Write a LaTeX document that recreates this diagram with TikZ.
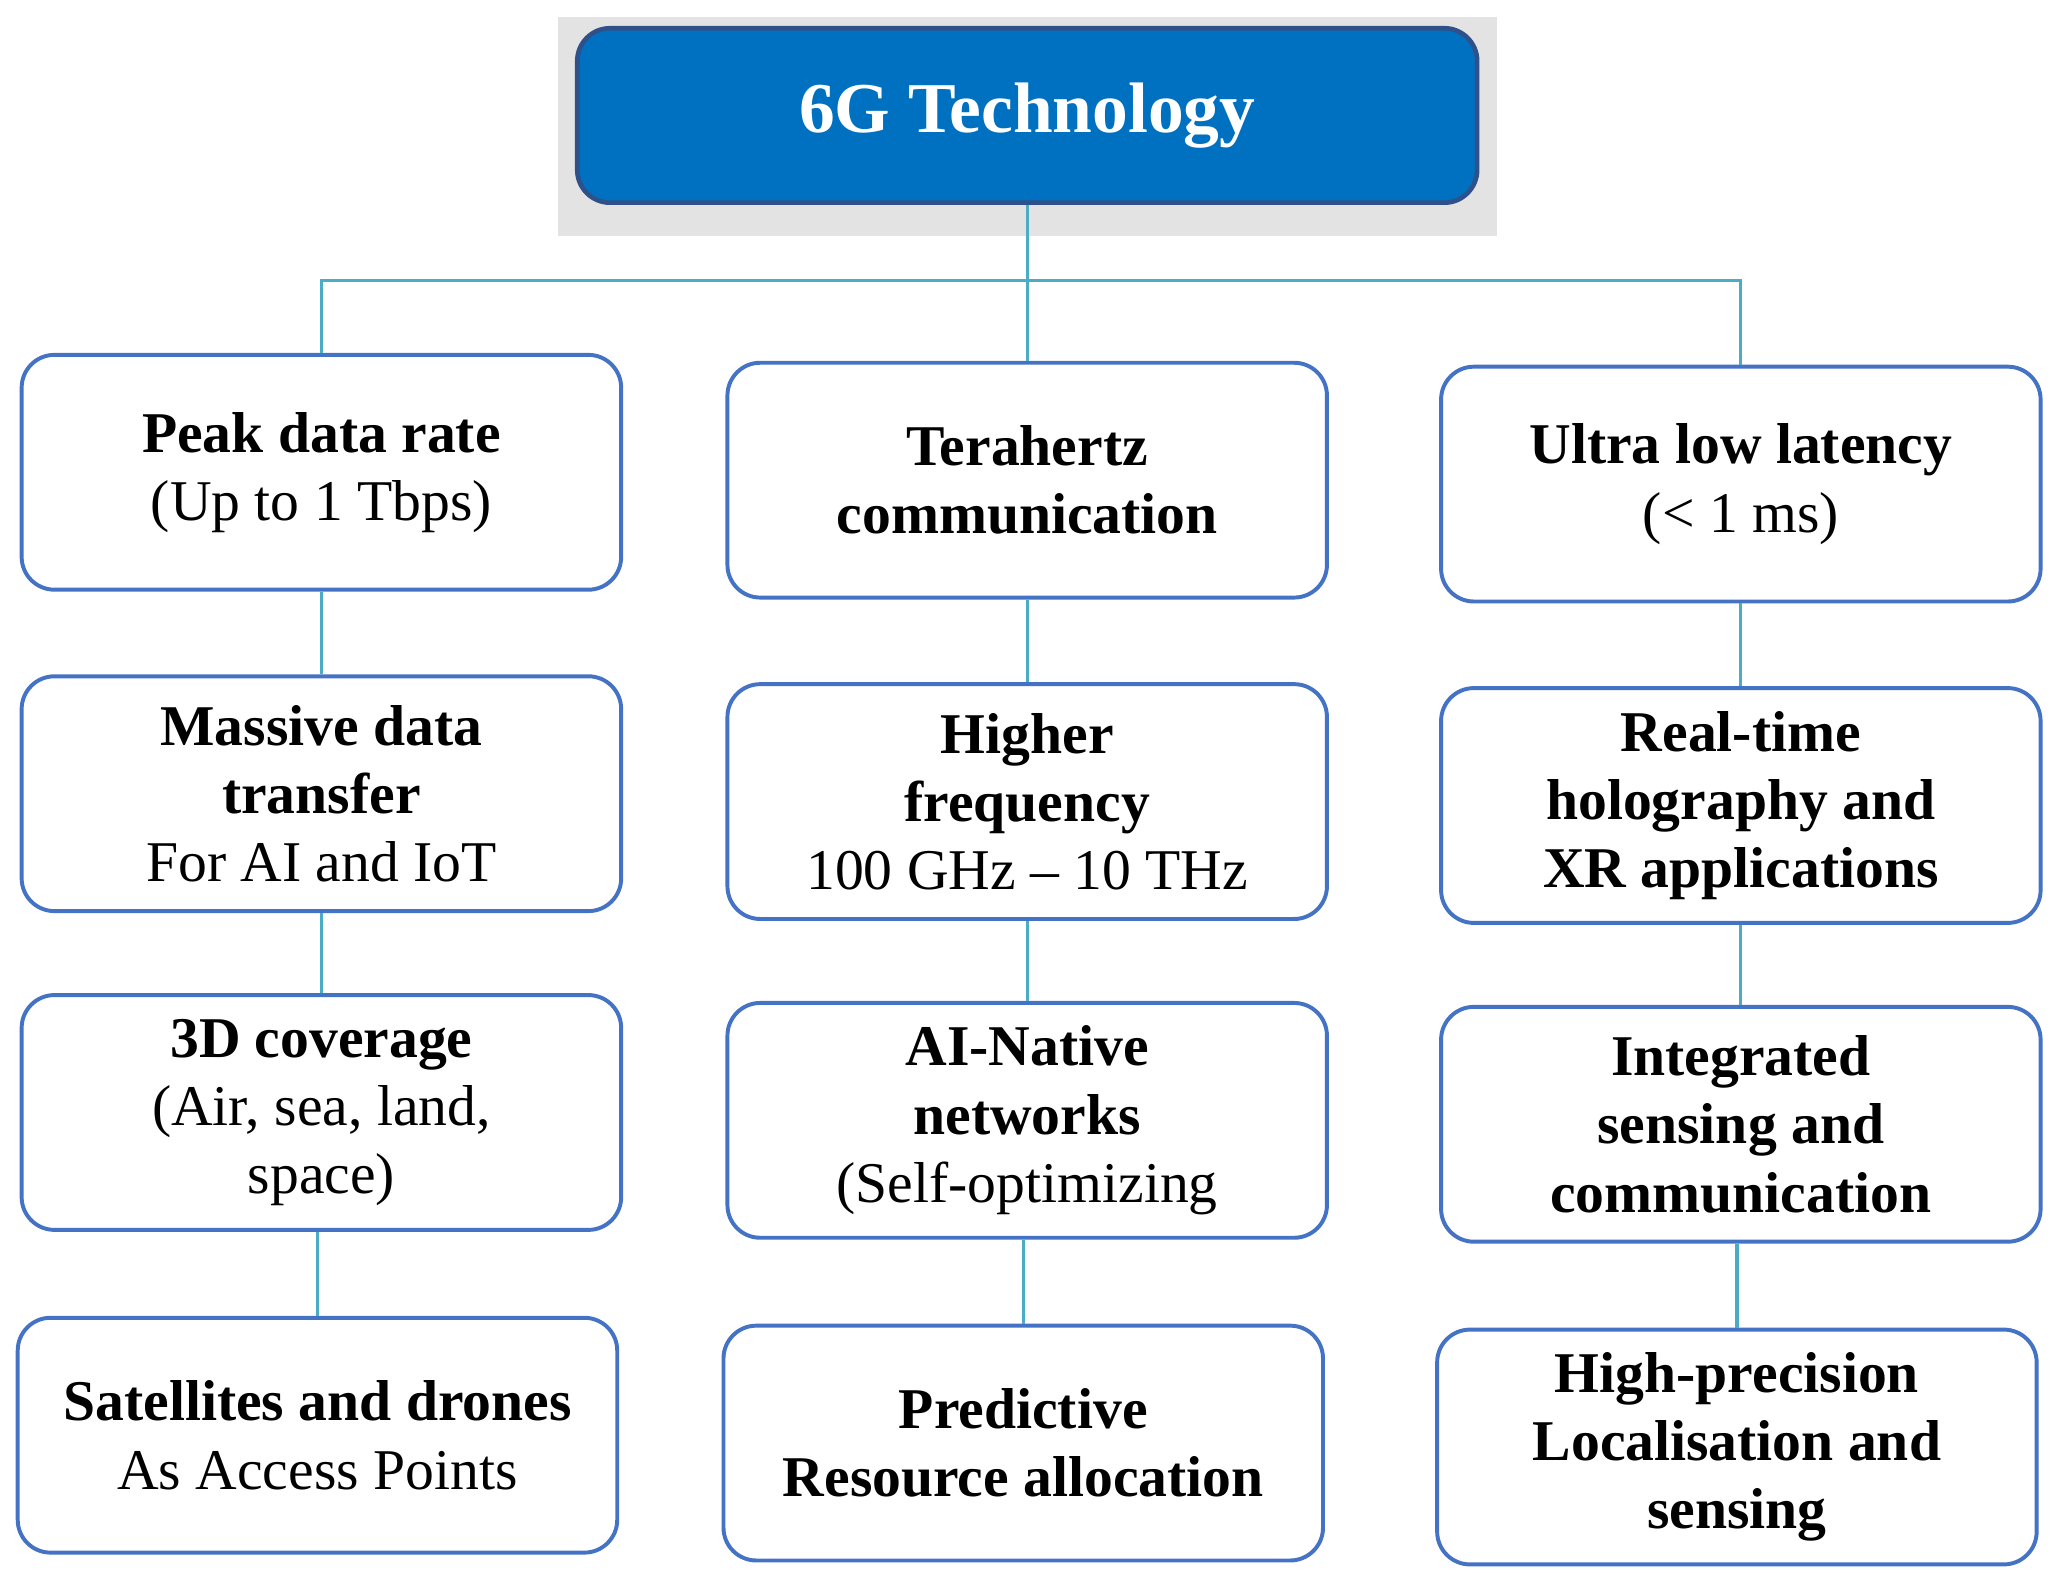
\documentclass[tikz,border=0pt]{standalone}
\usepackage{fontspec}
\setmainfont{Liberation Serif}
\begin{document}
\begin{tikzpicture}[x=0.1mm,y=-0.1mm,
  box/.style={draw=boxblue,line width=0.3mm,rounded corners=2.5mm,fill=white,align=center,
    minimum width=45.7mm,minimum height=17.9mm,inner sep=0pt,font=\fontsize{12.5}{14.8}\selectfont},
  conn/.style={draw=teal2,line width=0.25mm}]
\definecolor{boxblue}{HTML}{4472C4}
\definecolor{teal2}{HTML}{4BACC6}
\definecolor{topblue}{HTML}{0070C0}
\useasboundingbox (0,0) rectangle (1568,1210);
\fill[gray!22] (425,13) rectangle (1141,180);
\node[draw=boxblue!70!black,line width=0.35mm,fill=topblue,rounded corners=2.5mm,minimum width=68.6mm,minimum height=13.3mm,
  text=white,font=\fontsize{15.5}{18}\selectfont\bfseries] (top) at (783,88) {6G Technology};
\node[box] (a1) at (245,360) {\textbf{Peak data rate}\\(Up to 1 Tbps)};
\node[box] (a2) at (245,605) {\textbf{Massive data}\\\textbf{transfer}\\For AI and IoT};
\node[box] (a3) at (245,848) {\textbf{3D coverage}\\(Air, sea, land,\\space)};
\node[box] (a4) at (242,1094) {\textbf{Satellites and drones}\\As Access Points};
\node[box] (b1) at (783,366) {\textbf{Terahertz}\\\textbf{communication}};
\node[box] (b2) at (783,611) {\textbf{Higher}\\\textbf{frequency}\\100 GHz -- 10 THz};
\node[box] (b3) at (783,854) {\textbf{AI-Native}\\\textbf{networks}\\(Self-optimizing};
\node[box] (b4) at (780,1100) {\textbf{Predictive}\\\textbf{Resource allocation}};
\node[box] (c1) at (1327,369) {\textbf{Ultra low latency}\\(< 1 ms)};
\node[box] (c2) at (1327,614) {\textbf{Real-time}\\\textbf{holography and}\\\textbf{XR applications}};
\node[box] (c3) at (1327,857) {\textbf{Integrated}\\\textbf{sensing and}\\\textbf{communication}};
\node[box] (c4) at (1324,1103) {\textbf{High-precision}\\\textbf{Localisation and}\\\textbf{sensing}};
\coordinate (hub) at (782,214);
\draw[conn] (top.south) -- (top.south |- b1.north);
\draw[conn] (a1.north) |- (hub) -| (c1.north);
\foreach \u/\v in {a1/a2,a2/a3,a3/a4,b1/b2,b2/b3,b3/b4,c1/c2,c2/c3,c3/c4}
  \draw[conn] (\v.north) -- (\v.north |- \u.south);
\end{tikzpicture}
\end{document}
